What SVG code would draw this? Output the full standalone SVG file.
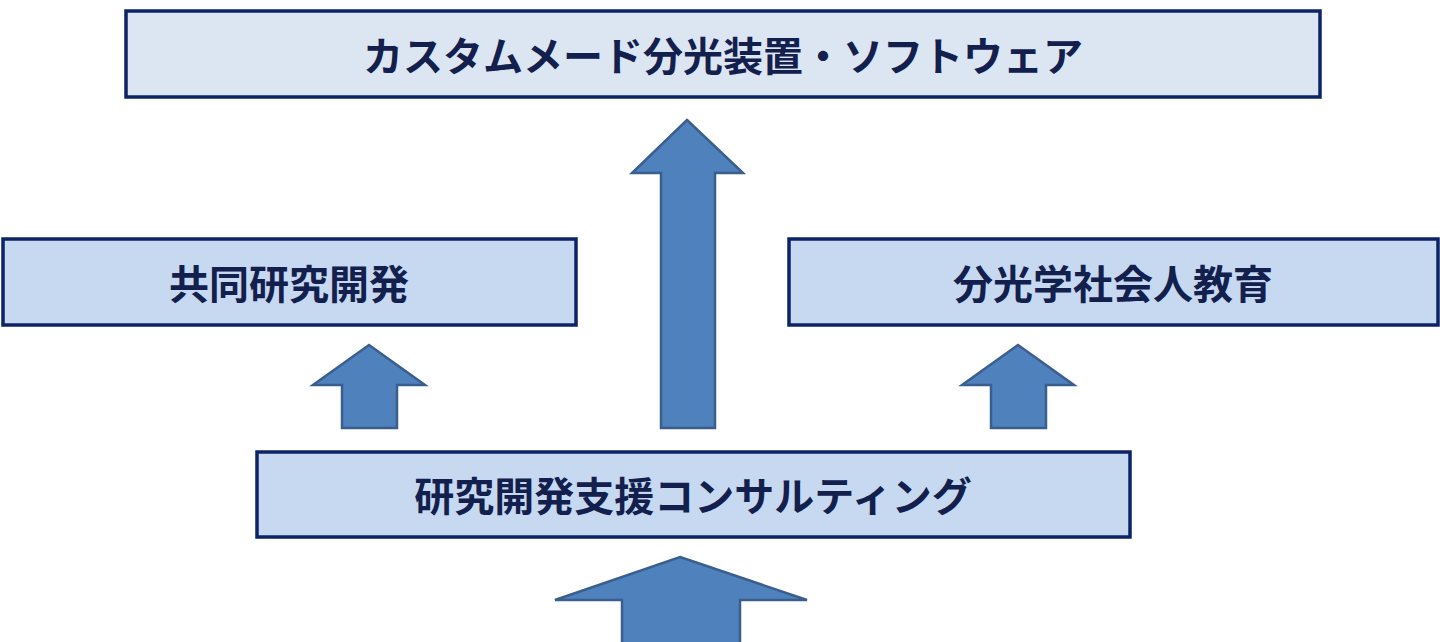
<svg xmlns="http://www.w3.org/2000/svg" width="1440" height="642" viewBox="0 0 1440 642">
<style>
.box{stroke:#0c2366;stroke-width:3.5}
.t{font-family:"Noto Sans CJK JP","Noto Sans",sans-serif;font-weight:bold;font-size:40px;fill:#13204d;text-anchor:middle;dominant-baseline:central}
.ar{fill:#4f81bd;stroke:#3a5f8f;stroke-width:2.5}
</style>
<rect width="1440" height="642" fill="#fff"/>
<g id="connectors">
<polygon class="ar" points="687,120 743,173 715,173 715,428 661,428 661,173 632,173"/>
<polygon class="ar" points="369,345 425,385 397,385 397,428 342,428 342,385 313,385"/>
<polygon class="ar" points="1018,345 1074,385 1046,385 1046,428 991,428 991,385 962,385"/>
<polygon class="ar" points="680,557 807,600 740,600 740,645 622,645 622,600 555,600"/>
</g>
<g id="n1"><rect class="box" x="126" y="11" width="1194" height="86" fill="#dce6f2"/><text class="t" x="723" y="54">カスタムメード分光装置・ソフトウェア</text></g>
<g id="n2"><rect class="box" x="3" y="239" width="573" height="86" fill="#c6d9f1"/><text class="t" x="289" y="282">共同研究開発</text></g>
<g id="n3"><rect class="box" x="789" y="239" width="649" height="86" fill="#c6d9f1"/><text class="t" x="1113" y="282">分光学社会人教育</text></g>
<g id="n4"><rect class="box" x="257" y="452" width="873" height="85" fill="#c6d9f1"/><text class="t" x="693" y="494">研究開発支援コンサルティング</text></g>
</svg>
